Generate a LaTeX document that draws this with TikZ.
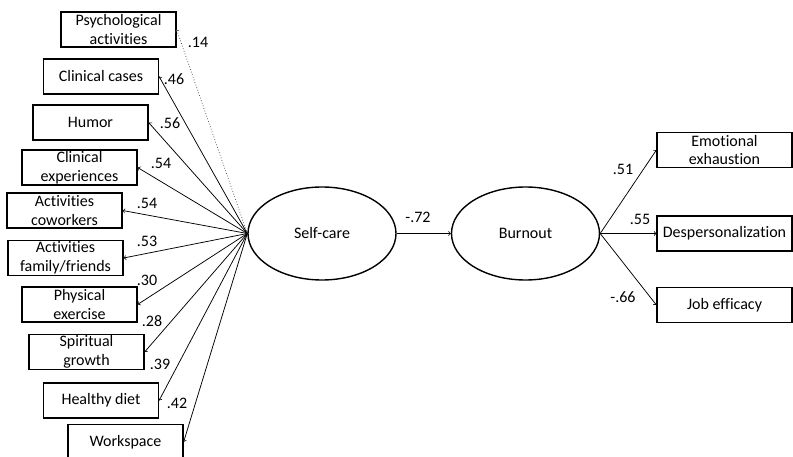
\documentclass[tikz,border=0pt]{standalone}
\usepackage{fontspec}
\setmainfont{Carlito}[Ligatures={NoCommon}]
\usetikzlibrary{shapes.geometric}

\begin{document}
\begin{tikzpicture}[x=1pt, y=-1pt,
		item/.style={draw, rectangle, line width=1.2pt, minimum width=115pt, minimum height=35pt, align=center, inner sep=1pt, font=\fontsize{16}{18.5}\selectfont},
		latent/.style={draw, ellipse, line width=1.4pt, minimum width=148pt, minimum height=93pt, font=\fontsize{16}{18.5}\selectfont},
		load/.style={->, >=to, line width=0.75pt},
		coef/.style={inner sep=0pt, font=\fontsize{16}{18.5}\selectfont}]
				\useasboundingbox (0,0) rectangle (793,457);
				% latent variables
				\node[latent] (SC)at(322, 233.5) {Self-care};
				\node[latent] (BO)at(525.5, 233.5) {Burnout};
				% self-care indicators
				\node[item] (PA)at(118.5, 29.5) {Psychological\\activities};
				\node[item] (CC)at(101, 76.5) {Clinical cases};
				\node[item] (HU)at(90.5, 122.5) {Humor};
				\node[item] (CE)at(79.5, 167.5) {Clinical\\experiences};
				\node[item] (AC)at(64.5, 210.5) {Activities\\coworkers};
				\node[item] (AF)at(65.5, 258) {Activities\\family/friends};
				\node[item] (PE)at(79.5, 304.5) {Physical\\exercise};
				\node[item] (SG)at(86.5, 352) {Spiritual\\growth};
				\node[item] (HD)at(101, 400.5) {Healthy diet};
				\node[item] (WS)at(125.5, 442) {Workspace};
				% burnout indicators
				\node[item, minimum width=135pt] (EE)at(724.5, 150) {Emotional\\exhaustion};
				\node[item, minimum width=135pt] (DP)at(724.5, 233.5) {Despersonalization};
				\node[item, minimum width=135pt] (JE)at(724.5, 305) {Job efficacy};
				% loadings
				\draw[load, dotted, gray!60!black] (SC.west) -- (PA.east);
				\draw[load] (SC.west) -- (CC.east);
				\draw[load] (SC.west) -- (HU.east);
				\draw[load] (SC.west) -- (CE.east);
				\draw[load] (SC.west) -- (AC.east);
				\draw[load] (SC.west) -- (AF.east);
				\draw[load] (SC.west) -- (PE.east);
				\draw[load] (SC.west) -- (SG.east);
				\draw[load] (SC.west) -- (HD.east);
				\draw[load] (SC.west) -- (WS.east);
				\draw[load] (SC.east) -- (BO.west);
				\draw[load] (BO.east) -- (EE.west);
				\draw[load] (BO.east) -- (DP.west);
				\draw[load] (BO.east) -- (JE.west);
				% coefficients
				\node[coef] (cPA)at(198, 42) {.14};
				\node[coef] (cCC)at(174, 79) {.46};
				\node[coef] (cHU)at(170, 123) {.56};
				\node[coef] (cCE)at(161, 163) {.54};
				\node[coef] (cAC)at(147, 203) {.54};
				\node[coef] (cAF)at(147, 241) {.53};
				\node[coef] (cPE)at(147, 280) {.30};
				\node[coef] (cSG)at(152, 321) {.28};
				\node[coef] (cHD)at(160, 364) {.39};
				\node[coef] (cWS)at(177, 403) {.42};
				\node[coef] (cBO)at(418, 217) {-.72};
				\node[coef] (cEE)at(623, 169) {.51};
				\node[coef] (cDP)at(640, 219) {.55};
				\node[coef] (cJE)at(623, 297) {-.66};
			\end{tikzpicture}
\end{document}
